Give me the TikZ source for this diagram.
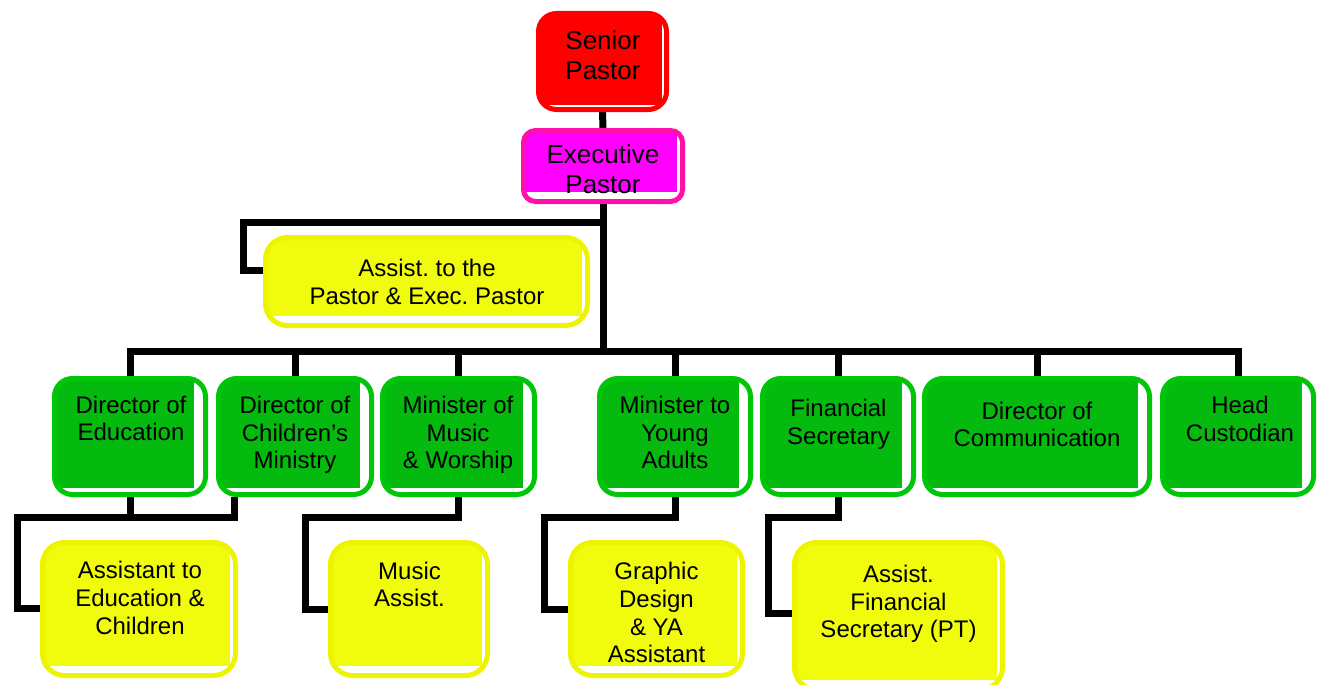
\documentclass[tikz,border=0pt]{standalone}
\usepackage{fontspec}
\setmainfont{Liberation Sans}
\usetikzlibrary{calc}
\pgfdeclarelayer{bg}
\pgfsetlayers{bg,main}
\definecolor{gfill}{RGB}{4,186,14}
\definecolor{gline}{RGB}{0,198,10}
\definecolor{yfill}{RGB}{240,252,12}
\definecolor{yline}{RGB}{238,244,0}
\definecolor{rfill}{RGB}{255,0,0}
\definecolor{mfill}{RGB}{255,0,255}
\definecolor{mline}{RGB}{255,16,170}
\frenchspacing
\begin{document}
\begin{tikzpicture}[x=1pt,y=-1pt,
  box/.style n args={4}{draw=#2, fill=white, line width=5pt, inner sep=0pt,
    path picture={\fill[#1, sharp corners] (path picture bounding box.north west)
      rectangle ([xshift=-#3pt, yshift=#4pt]path picture bounding box.south east);}},
  gbox/.style={box={gfill}{gline}{11.5}{6.5}, rounded corners=18pt, minimum height=116pt},
  ybox/.style={box={yfill}{yline}{5.5}{9.5}, rounded corners=22pt},
  rbox/.style={box={rfill}{rfill}{4.5}{4.5}, rounded corners=18pt},
  mbox/.style={box={mfill}{mline}{6}{9.5}, rounded corners=12pt},
  txt/.style={font=\fontsize{24pt}{27.6pt}\selectfont, align=center, inner sep=0pt, text=black},
  bigtxt/.style={font=\fontsize{26pt}{29.9pt}\selectfont, align=center, inner sep=0pt, text=black},
  wire/.style={line width=7pt, line join=miter, draw=black}]
\useasboundingbox (0,0) rectangle (1317,685);
\clip (0,0) rectangle (1317,685);

% boxes
\node[rbox, minimum width=128pt, minimum height=96pt] (sp) at (602.5,61.5) {};
\node[mbox, minimum width=159pt, minimum height=71pt] (ep) at (603,166) {};
\node[ybox, minimum width=322pt, minimum height=88pt] (ap) at (426.5,281.5) {};

\node[gbox, minimum width=151pt] (ded) at (130,436.5) {};
\node[gbox, minimum width=153pt] (dcm) at (295,436.5) {};
\node[gbox, minimum width=152pt] (mmw) at (458.5,436.5) {};
\node[gbox, minimum width=151pt] (mya) at (675,436.5) {};
\node[gbox, minimum width=151pt] (fs) at (838,436.5) {};
\node[gbox, minimum width=225pt] (dc) at (1037,436.5) {};
\node[gbox, minimum width=151pt] (hc) at (1238,436.5) {};

\node[ybox, minimum width=193pt, minimum height=133pt] (aec) at (139,609) {};
\node[ybox, minimum width=157pt, minimum height=133pt] (mas) at (409,609) {};
\node[ybox, minimum width=172pt, minimum height=133pt] (gd) at (656.5,609) {};
\node[ybox, minimum width=208pt, minimum height=147pt] (afs) at (898.5,616) {};

% texts
\node[bigtxt] (t-sp) at (603,55) {Senior\\Pastor};
\node[bigtxt] (t-ep) at (603,169.5) {Executive\\Pastor};
\node[txt] (t-ap) at (427,282) {Assist. to the\\Pastor \& Exec. Pastor};
\node[txt] (t-ded) at (131,418.5) {Director of\\Education};
\node[txt] (t-dcm) at (295,435) {Director of\\Children’s\\Ministry};
\node[txt] (t-mmw) at (458,435) {Minister of\\Music\\\& Worship};
\node[txt] (t-mya) at (675,432.5) {Minister to\\Young\\Adults};
\node[txt] (t-fs) at (838.5,424.5) {Financial\\Secretary};
\node[txt] (t-dc) at (1037,424.5) {Director of\\Communication};
\node[txt] (t-hc) at (1240,419) {Head\\Custodian};
\node[txt] (t-aec) at (140,598) {Assistant to\\Education \&\\Children};
\node[txt] (t-mas) at (409.5,584.5) {Music\\Assist.};
\node[txt] (t-gd) at (656.5,612.75) {Graphic\\Design\\\& YA\\Assistant};
\node[txt] (t-afs) at (898.5,604) {Assist.\\Financial\\Secretary (PT)};

% junction coordinates
\coordinate (bus) at (0,351.5);
\coordinate (sub) at (0,517);
\coordinate (apj) at (603,222);
\coordinate (apk) at (243,270);
\coordinate (ea) at (17,608);
\coordinate (ma) at (305,609);
\coordinate (ya) at (544,609);
\coordinate (fa) at (768,613);
\coordinate (dcmd) at ($(dcm.south west)+(18.5,0)$);

\begin{pgfonlayer}{bg}
\draw[wire] (sp.south) -- (ep.north);
\draw[wire] (ep.south) -- (ep.south |- bus);
\draw[wire] (apj) -| (apk) -- (ap.west |- apk);
\draw[wire] (ded.north) -- (ded.north |- bus) -- (hc.north |- bus) -- (hc.north);
\foreach \n in {dcm,mmw,mya,fs,dc}
  \draw[wire] (\n.north |- bus) -- (\n.north);
\draw[wire] (ded.south) -- (ded.south |- sub) -| (ea) -- (aec.west |- ea);
\draw[wire] (dcmd) -- (dcmd |- sub) -- (ded.south |- sub);
\draw[wire] (mmw.south) -- (mmw.south |- sub) -| (ma) -- (mas.west |- ma);
\draw[wire] (mya.south) -- (mya.south |- sub) -| (ya) -- (gd.west |- ya);
\draw[wire] (fs.south) -- (fs.south |- sub) -| (fa) -- (afs.west |- fa);
\end{pgfonlayer}
\end{tikzpicture}
\end{document}
